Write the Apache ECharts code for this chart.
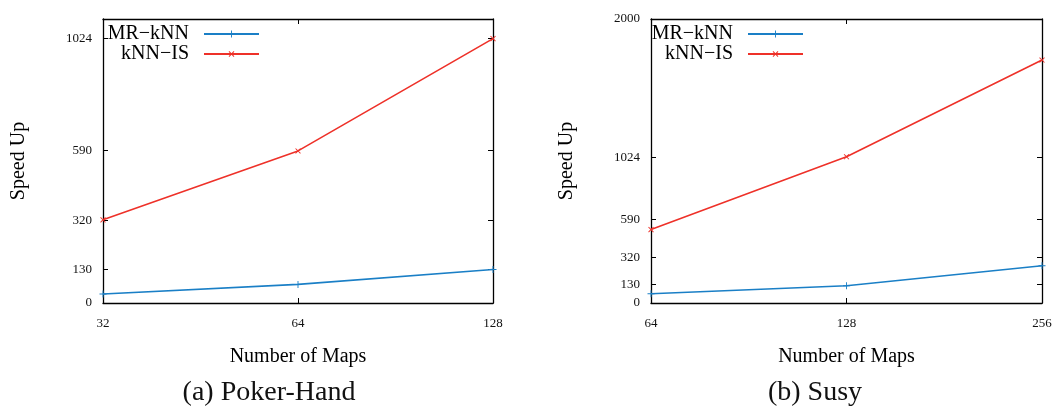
<!DOCTYPE html>
<html>
<head>
<meta charset="utf-8">
<script src="https://cdn.jsdelivr.net/npm/echarts@6/dist/echarts.min.js"></script>
<style>
html,body{margin:0;padding:0;background:#fff;}
#c{width:1059px;height:408px;}
</style>
</head>
<body>
<div id="c"></div>
<script>
// ---- data ----
const seriesNames = ['MR\u2212kNN', 'kNN\u2212IS'];
const pokerMaps = ['32', '64', '128'];
const pokerMR = [35, 72, 130];
const pokerIS = [322, 589, 1024];
const pokerTicks = [0, 130, 320, 590, 1024];
const pokerMax = 1100;
const susyMaps = ['64', '128', '256'];
const susyMR = [65, 122, 262];
const susyIS = [517, 1030, 1711];
const susyTicks = [0, 130, 320, 590, 1024, 2000];
const susyMax = 2000;
const captions = ['(a) Poker-Hand', '(b) Susy'];
const xTitle = 'Number of Maps';
const yTitle = 'Speed Up';

// ---- style ----
const FONT = 'Liberation Serif';
const BLUE = '#1a7fc6';
const RED = '#ee3129';
const PLUS = 'path://M4.35,0H5.65V4.35H10V5.65H5.65V10H4.35V5.65H0V4.35H4.35Z';

function xAxes(gi, cats) {
  return [
    {
      type: 'category', gridIndex: gi, data: cats, boundaryGap: false, position: 'bottom',
      axisLine: { onZero: false, lineStyle: { color: '#000', width: 1.3 } },
      axisTick: { inside: true, length: 5, lineStyle: { color: '#000' } },
      axisLabel: { fontFamily: FONT, fontSize: 13, color: '#111', margin: 14 },
      splitLine: { show: false },
      name: xTitle, nameLocation: 'middle', nameGap: 44,
      nameTextStyle: { fontFamily: FONT, fontSize: 20, color: '#000' }
    },
    {
      type: 'category', gridIndex: gi, data: cats, boundaryGap: false, position: 'top',
      axisLine: { onZero: false, lineStyle: { color: '#000', width: 1.3 } },
      axisTick: { inside: true, length: 5, lineStyle: { color: '#000' } },
      axisLabel: { show: false }, splitLine: { show: false }
    }
  ];
}
function yAxes(gi, ticks, max) {
  return [
    {
      type: 'value', gridIndex: gi, min: 0, max: max, position: 'left',
      axisLine: { show: true, onZero: false, lineStyle: { color: '#000', width: 1.3 } },
      axisTick: { show: true, inside: true, length: 5, customValues: ticks, lineStyle: { color: '#000' } },
      axisLabel: { fontFamily: FONT, fontSize: 13, color: '#111', margin: 11, customValues: ticks,
                   formatter: function (v) { return String(v); } },
      splitLine: { show: false },
      name: yTitle, nameLocation: 'middle', nameGap: 74, nameRotate: 90,
      nameTextStyle: { fontFamily: FONT, fontSize: 20, color: '#000' }
    },
    {
      type: 'value', gridIndex: gi, min: 0, max: max, position: 'right',
      axisLine: { show: true, onZero: false, lineStyle: { color: '#000', width: 1.3 } },
      axisTick: { show: true, inside: true, length: 5, customValues: ticks, lineStyle: { color: '#000' } },
      axisLabel: { show: false }, splitLine: { show: false }
    }
  ];
}
function lineSeries(name, data, xi, yi, color, rotate) {
  return {
    type: 'line', name: name, data: data, xAxisIndex: xi, yAxisIndex: yi,
    symbol: PLUS, symbolSize: 7, symbolRotate: rotate, showAllSymbol: true,
    lineStyle: { color: color, width: 1.6 },
    itemStyle: { color: color },
    emphasis: { disabled: true }, animation: false
  };
}
function legend(name, right, top) {
  return {
    data: [name], right: right, top: top, orient: 'vertical', align: 'right',
    padding: 0, itemWidth: 55, itemHeight: 9, selectedMode: false,
    textStyle: { fontFamily: FONT, fontSize: 20, color: '#000', lineHeight: 20, padding: [0, 10, 0, 0] }
  };
}

const chart = echarts.init(document.getElementById('c'), null, { renderer: 'canvas' });
chart.setOption({
  backgroundColor: '#fff',
  animation: false,
  grid: [
    { left: 103, right: 566, top: 19, bottom: 105 },
    { left: 651, right: 17, top: 19, bottom: 105 }
  ],
  xAxis: xAxes(0, pokerMaps).concat(xAxes(1, susyMaps)),
  yAxis: yAxes(0, pokerTicks, pokerMax).concat(yAxes(1, susyTicks, susyMax)),
  legend: [
    legend(seriesNames[0], 799, 24),
    legend(seriesNames[1], 799, 44),
    legend(seriesNames[0], 255, 24),
    legend(seriesNames[1], 255, 44)
  ],
  series: [
    lineSeries(seriesNames[0], pokerMR, 0, 0, BLUE, 0),
    lineSeries(seriesNames[1], pokerIS, 0, 0, RED, 45),
    lineSeries(seriesNames[0], susyMR, 2, 2, BLUE, 0),
    lineSeries(seriesNames[1], susyIS, 2, 2, RED, 45)
  ],
  graphic: [
    { type: 'text', x: 269, y: 393, style: { text: captions[0], font: '28px "Liberation Serif"', fill: '#111', textAlign: 'center', textVerticalAlign: 'middle' } },
    { type: 'text', x: 815, y: 393, style: { text: captions[1], font: '28px "Liberation Serif"', fill: '#111', textAlign: 'center', textVerticalAlign: 'middle' } }
  ]
});
</script>
</body>
</html>
